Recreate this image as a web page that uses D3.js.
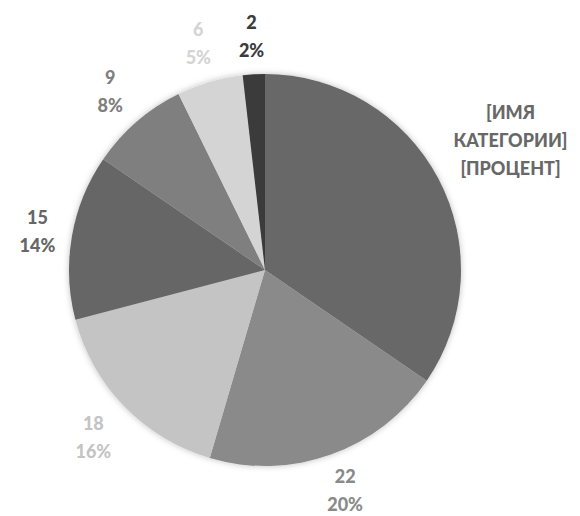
<!DOCTYPE html>
<html>
<head>
<meta charset="utf-8">
<script src="https://cdn.jsdelivr.net/npm/d3@7"></script>
<style>
  body { margin: 0; background: #fff; }
  svg text { font-family: Lato, "Open Sans", sans-serif; font-weight: 900; font-size: 18px; }
</style>
</head>
<body>
<svg class="chart"></svg>
<script>
// pie, clockwise from 12 o'clock
var values = [38, 22, 18, 15, 9, 6, 2];
var colors = ["#686868", "#8a8a8a", "#c4c4c4", "#666666", "#7f7f7f", "#d4d4d4", "#3b3b3b"];
// first slice keeps the placeholder text from the template
var customLabels = [["[ИМЯ", "КАТЕГОРИИ]", "[ПРОЦЕНТ]"], null, null, null, null, null, null];

var ui = {
  width: 580,
  height: 516,
  cx: 265,
  cy: 270,
  radius: 196,
  gap: 13,
  lineHeight: 28
}

var total = d3.sum(values);

var chart = d3.select(".chart")
  .attr("width", ui.width)
  .attr("height", ui.height);

var defs = chart.append("defs");
var shadow = defs.append("filter")
  .attr("id", "shadow")
  .attr("x", "-10%").attr("y", "-10%")
  .attr("width", "120%").attr("height", "120%");
shadow.append("feDropShadow")
  .attr("dx", 0).attr("dy", 0)
  .attr("stdDeviation", 3)
  .attr("flood-color", "#000")
  .attr("flood-opacity", 0.25);

var pie = d3.pie().sort(null).value(function(d) { return d; });
var arcs = pie(values);

var arc = d3.arc().innerRadius(0).outerRadius(ui.radius);

var g = chart.append("g")
  .attr("transform", "translate(" + ui.cx + "," + ui.cy + ")");

g.append("g")
  .attr("filter", "url(#shadow)")
  .selectAll("path")
  .data(arcs)
  .enter().append("path")
  .attr("d", arc)
  .style("fill", function(d, i) { return colors[i]; });

var labels = g.selectAll(".label")
  .data(arcs)
  .enter().append("text")
  .attr("class", "label")
  .attr("text-anchor", "middle")
  .style("fill", function(d, i) { return colors[i]; });

labels.each(function(d, i) {
  var lines = customLabels[i] || [String(d.value), Math.round(d.value / total * 100) + "%"];
  var t = d3.select(this);
  lines.forEach(function(line, k) {
    t.append("tspan")
      .attr("x", 0)
      .attr("y", k * ui.lineHeight)
      .text(line);
  });
});

// push each label outward along the slice middle until its box clears the rim
labels.attr("transform", function(d) {
  var box = this.getBBox();
  var a = (d.startAngle + d.endAngle) / 2;
  var s = Math.sin(a), c = -Math.cos(a);
  var dist = ui.radius + ui.gap + Math.abs(s) * box.width / 2 + Math.abs(c) * box.height / 2;
  var ox = box.x + box.width / 2;
  var oy = box.y + box.height / 2;
  var tx = dist * s - ox;
  var ty = dist * c - oy;
  // keep the box inside the picture
  var bottom = ui.cy + ty + box.y + box.height;
  if (bottom > ui.height - 1) ty -= bottom - (ui.height - 1);
  return "translate(" + tx + "," + ty + ")";
});
</script>
</body>
</html>
